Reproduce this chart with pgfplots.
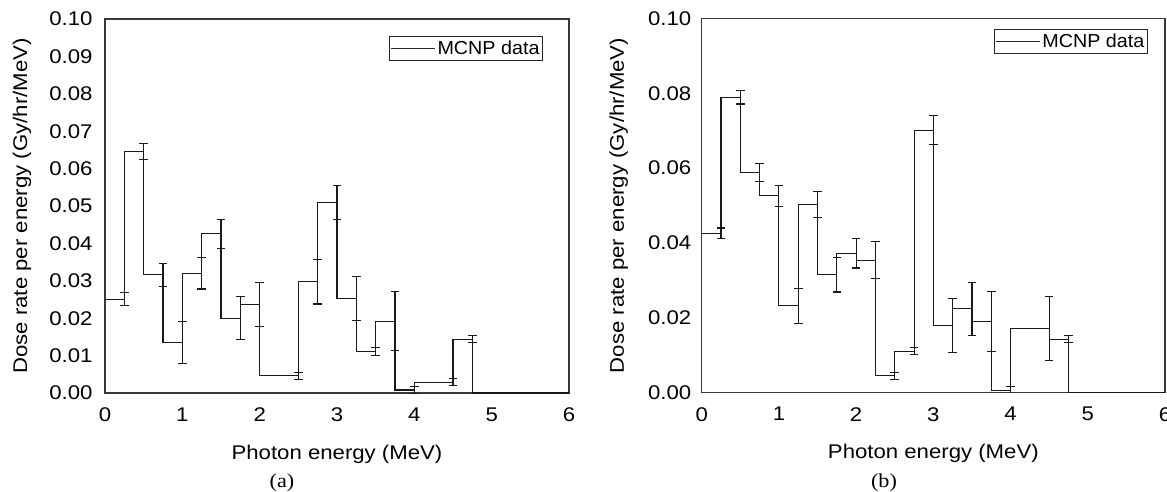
\documentclass[border=0pt]{standalone}
\usepackage{fontspec}
\setmainfont{Liberation Sans}[FakeStretch=1.12]
\newfontfamily\capfont{Liberation Serif}[FakeStretch=1.12]
\newfontfamily\legfont{Liberation Sans}[FakeStretch=1.05]
\usepackage{pgfplots}
\pgfplotsset{compat=1.18}

\newcommand{\bigtxt}{\fontsize{19.8}{23}\selectfont}

\pgfplotsset{
  doseax/.style={
    scale only axis,
    anchor=south west,
    xmin=0, xmax=6, ymin=0, ymax=0.1,
    xtick={0,1,...,6},
    major tick length=0pt,
    axis line style={black!78, line width=1.2pt},
    tick label style={font=\bigtxt},
    label style={font=\bigtxt},
    /pgf/number format/assume math mode=true,
    scaled y ticks=false,
    yticklabel style={/pgf/number format/fixed, /pgf/number format/fixed zerofill,
      /pgf/number format/precision=2},
    xticklabel style={yshift=-11pt},
    xlabel={Photon energy (MeV)},
    ylabel={Dose rate per energy (Gy/hr/MeV)},
    xlabel style={at={(axis description cs:0.5,0)}, anchor=base, yshift=-66pt},
    ylabel style={at={(axis description cs:0,0.5)}, anchor=center, yshift=83pt},
    legend cell align=left,
    legend image code/.code={\draw[black!85, line width=1pt] (0pt,0pt) -- (44pt,0pt);},
    legend style={font=\legfont\fontsize{18.8}{21}\selectfont, draw=black!85, line width=0.9pt,
      anchor=north east, inner xsep=1pt, inner ysep=2.5pt, row sep=-2pt},
  },
  step/.style={const plot mark left, black!90, line width=1.1pt, mark=none},
  errs/.style={draw=none, mark=none, forget plot,
    error bars/y dir=both, error bars/y explicit,
    error bars/error bar style={draw=black!90, line width=1.1pt},
    error bars/error mark options={draw=black!90, line width=1.1pt, mark size=4.3pt, rotate=90}},
}

\begin{document}
\begin{tikzpicture}
\useasboundingbox (0,0) rectangle (1167pt,-491pt);

% (a)
\begin{axis}[doseax,
    at={(105pt,-393pt)}, width=464pt, height=374pt,
    ytick={0,0.01,...,0.1},
    yticklabel style={xshift=-9pt},
    legend style={at={(0.944,0.955)}}]
\addplot[step] coordinates {
  (0,0.0251) (0.25,0.0646) (0.5,0.0316) (0.75,0.0135) (1.0,0.0320)
  (1.25,0.0426) (1.5,0.0200) (1.75,0.0236) (2.0,0.0046) (2.5,0.0297)
  (2.75,0.0509) (3.0,0.0252) (3.25,0.0111) (3.5,0.0192) (3.75,0.0008)
  (4.0,0.0029) (4.5,0.0144) (4.75,0) (6,0)};
\addlegendentry{MCNP data}
\addplot[errs] coordinates {
  (0.25,0.0251) +- (0,0.0018)
  (0.5,0.0646) +- (0,0.0022)
  (0.75,0.0316) +- (0,0.0031)
  (1.0,0.0135) +- (0,0.0055)
  (1.25,0.0320) +- (0,0.0042)
  (1.5,0.0426) +- (0,0.0039)
  (1.75,0.0200) +- (0,0.0058)
  (2.0,0.0236) +- (0,0.0059)
  (2.5,0.0046) +- (0,0.0009)
  (2.75,0.0297) +- (0,0.0059)
  (3.0,0.0509) +- (0,0.0045)
  (3.25,0.0252) +- (0,0.0059)
  (3.5,0.0111) +- (0,0.0010)
  (3.75,0.0192) +- (0,0.0079)
  (4.0,0.0008) +- (0,0.0009)
  (4.5,0.0029) +- (0,0.0010)
  (4.75,0.0144) +- (0,0.0010)};
\end{axis}

% (b)
\begin{axis}[doseax,
    at={(701.7pt,-392.7pt)}, width=463.3pt, height=374.4pt,
    ytick={0,0.02,...,0.1},
    yticklabel style={xshift=-7pt},
    legend style={at={(0.963,0.971)}}]
\addplot[step] coordinates {
  (0,0.0426) (0.25,0.0789) (0.5,0.0588) (0.75,0.0526) (1.0,0.0232)
  (1.25,0.0503) (1.5,0.0315) (1.75,0.0373) (2.0,0.0354) (2.25,0.0045)
  (2.5,0.0111) (2.75,0.0701) (3.0,0.0180) (3.25,0.0224) (3.5,0.0191)
  (3.75,0.0007) (4.0,0.0171) (4.5,0.0143) (4.75,0) (6,0)};
\addlegendentry{MCNP data}
\addplot[errs] coordinates {
  (0.25,0.0426) +- (0,0.0014)
  (0.5,0.0789) +- (0,0.0018)
  (0.75,0.0588) +- (0,0.0023)
  (1.0,0.0526) +- (0,0.0028)
  (1.25,0.0232) +- (0,0.0046)
  (1.5,0.0503) +- (0,0.0035)
  (1.75,0.0315) +- (0,0.0046)
  (2.0,0.0373) +- (0,0.0040)
  (2.25,0.0354) +- (0,0.0050)
  (2.5,0.0045) +- (0,0.0010)
  (2.75,0.0111) +- (0,0.0010)
  (3.0,0.0701) +- (0,0.0039)
  (3.25,0.0180) +- (0,0.0072)
  (3.5,0.0224) +- (0,0.0071)
  (3.75,0.0191) +- (0,0.0080)
  (4.0,0.0007) +- (0,0.0009)
  (4.5,0.0171) +- (0,0.0085)
  (4.75,0.0143) +- (0,0.0010)};
\end{axis}

\node[anchor=base, font=\capfont\bigtxt] at (282pt,-487pt) {(a)};
\node[anchor=base, font=\capfont\bigtxt] at (884pt,-487pt) {(b)};
\end{tikzpicture}
\end{document}
